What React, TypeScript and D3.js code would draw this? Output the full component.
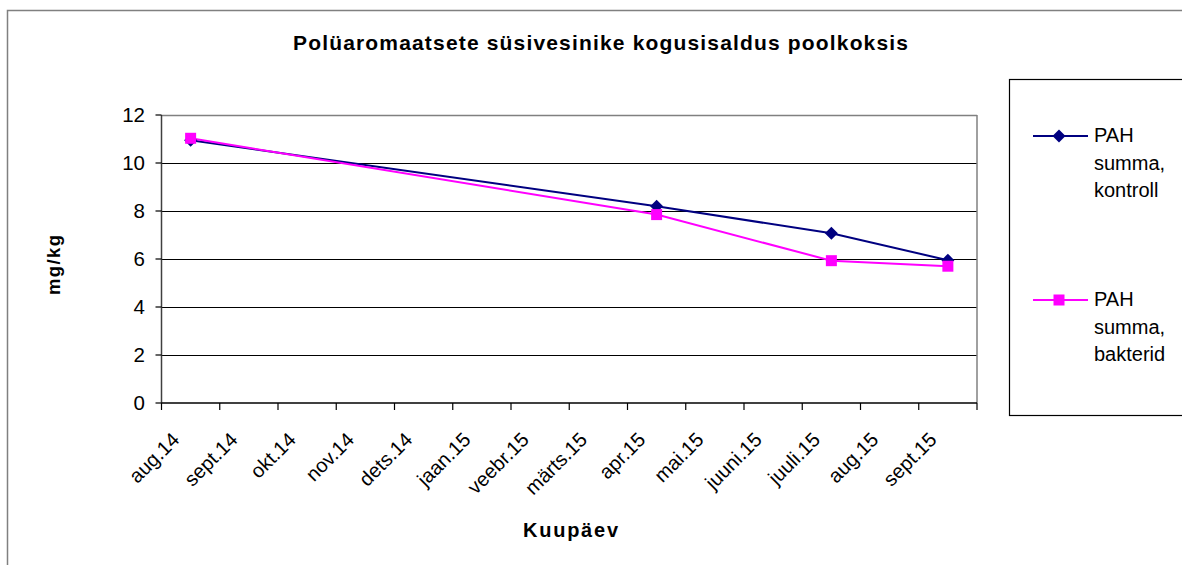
import React from "react";
import * as d3 from "d3";

const categories = ["aug.14", "sept.14", "okt.14", "nov.14", "dets.14", "jaan.15", "veebr.15", "märts.15", "apr.15", "mai.15", "juuni.15", "juuli.15", "aug.15", "sept.15"];
const kontrollDates = ["aug.14", "apr.15", "juuli.15", "sept.15"];
const kontrollValues = [10.95, 8.2, 7.07, 5.95];
const bakteridDates = ["aug.14", "apr.15", "juuli.15", "sept.15"];
const bakteridValues = [11.03, 7.85, 5.93, 5.7];
const yTicks = [0, 2, 4, 6, 8, 10, 12];
const seriesNames = [["PAH", "summa,", "kontroll"], ["PAH", "summa,", "bakterid"]];
const title = "Polüaromaatsete süsivesinike kogusisaldus poolkoksis";
const xTitle = "Kuupäev";
const yTitle = "mg/kg";

const FONT = "'Liberation Sans', Arial, sans-serif";

export default function App() {
  const left = 161.5, right = 977, top = 115, bottom = 403;
  const x = d3.scaleBand<string>().domain(categories).range([left, right]).padding(0);
  const y = d3.scaleLinear().domain([0, 12]).range([bottom, top]);
  const cx = (c: string) => (x(c) as number) + x.bandwidth() / 2;
  const line = d3.line<[string, number]>().x((d) => cx(d[0])).y((d) => y(d[1]));
  const kData: [string, number][] = kontrollDates.map((d, i) => [d, kontrollValues[i]]);
  const bData: [string, number][] = bakteridDates.map((d, i) => [d, bakteridValues[i]]);
  const tickXs = [...categories.map((c) => x(c) as number), right];
  const diamond = (px: number, py: number, r: number) => `M${px},${py - r}L${px + r},${py}L${px},${py + r}L${px - r},${py}Z`;

  return (
    <svg width={1182} height={565} style={{ position: "absolute", left: 0, top: 0, background: "#fff" }} fontFamily={FONT}>
      <rect x={0} y={0} width={1182} height={565} fill="#fff" />
      <rect x={7.5} y={10.5} width={1300} height={700} fill="none" stroke="#808080" strokeWidth={1.5} />
      <text x={293} y={50} fontSize={21} fontWeight="bold" textLength={615} lengthAdjust="spacing">{title}</text>

      {/* gridlines */}
      {yTicks.filter((t) => t > 0 && t < 12).map((t) => (
        <line key={"g" + t} x1={left} x2={right} y1={Math.round(y(t)) + 0.5} y2={Math.round(y(t)) + 0.5} stroke="#000" strokeWidth={1} />
      ))}
      <line x1={left} x2={right} y1={top + 0.5} y2={top + 0.5} stroke="#808080" strokeWidth={1.5} />
      <line x1={right} x2={right} y1={top} y2={bottom} stroke="#808080" strokeWidth={1.5} />
      {/* axes */}
      <line x1={left} x2={left} y1={top} y2={bottom} stroke="#404040" strokeWidth={1.5} />
      <line x1={left} x2={right} y1={bottom} y2={bottom} stroke="#000" strokeWidth={1.5} />
      {yTicks.map((t) => (
        <g key={"y" + t}>
          <line x1={left - 6} x2={left} y1={y(t)} y2={y(t)} stroke="#000" strokeWidth={1.2} />
          <text x={145} y={y(t) + 7} fontSize={20.5} textAnchor="end" fill="#000">{t}</text>
        </g>
      ))}
      {tickXs.map((tx, i) => (
        <line key={"xt" + i} x1={tx} x2={tx} y1={bottom} y2={bottom + 7} stroke="#000" strokeWidth={1.2} />
      ))}
      {categories.map((c) => (
        <text key={"xl" + c} transform={`translate(${cx(c) - 10},${441}) rotate(-45)`} fontSize={20} textAnchor="end" fill="#000">{c}</text>
      ))}
      <text x={523} y={537} fontSize={20} fontWeight="bold" textLength={95} lengthAdjust="spacing">{xTitle}</text>
      <text transform={`translate(60,295) rotate(-90)`} fontSize={18.5} fontWeight="bold" textLength={60} lengthAdjust="spacing">{yTitle}</text>

      {/* series */}
      <path d={line(kData) || ""} fill="none" stroke="#000080" strokeWidth={2} />
      <path d={line(bData) || ""} fill="none" stroke="#FF00FF" strokeWidth={2} />
      {kData.map((d, i) => (
        <path key={"k" + i} d={diamond(cx(d[0]), y(d[1]), 6.5)} fill="#000080" />
      ))}
      {bData.map((d, i) => (
        <rect key={"b" + i} x={cx(d[0]) - 5.5} y={y(d[1]) - 5.5} width={11} height={11} fill="#FF00FF" />
      ))}

      {/* legend */}
      <rect x={1009.5} y={79.5} width={300} height={336} fill="#fff" stroke="#000" strokeWidth={1.2} />
      {[0, 1].map((i) => {
        const ly = i === 0 ? 136 : 300;
        const color = i === 0 ? "#000080" : "#FF00FF";
        return (
          <g key={"lg" + i}>
            <line x1={1033} x2={1088} y1={ly} y2={ly} stroke={color} strokeWidth={2} />
            {i === 0 ? <path d={diamond(1059, ly, 6.5)} fill={color} /> : <rect x={1053.5} y={ly - 5.5} width={11} height={11} fill={color} />}
            {seriesNames[i].map((s, j) => (
              <text key={j} x={1094} y={ly + 6 + j * 27.5} fontSize={20} fill="#000">{s}</text>
            ))}
          </g>
        );
      })}
    </svg>
  );
}
